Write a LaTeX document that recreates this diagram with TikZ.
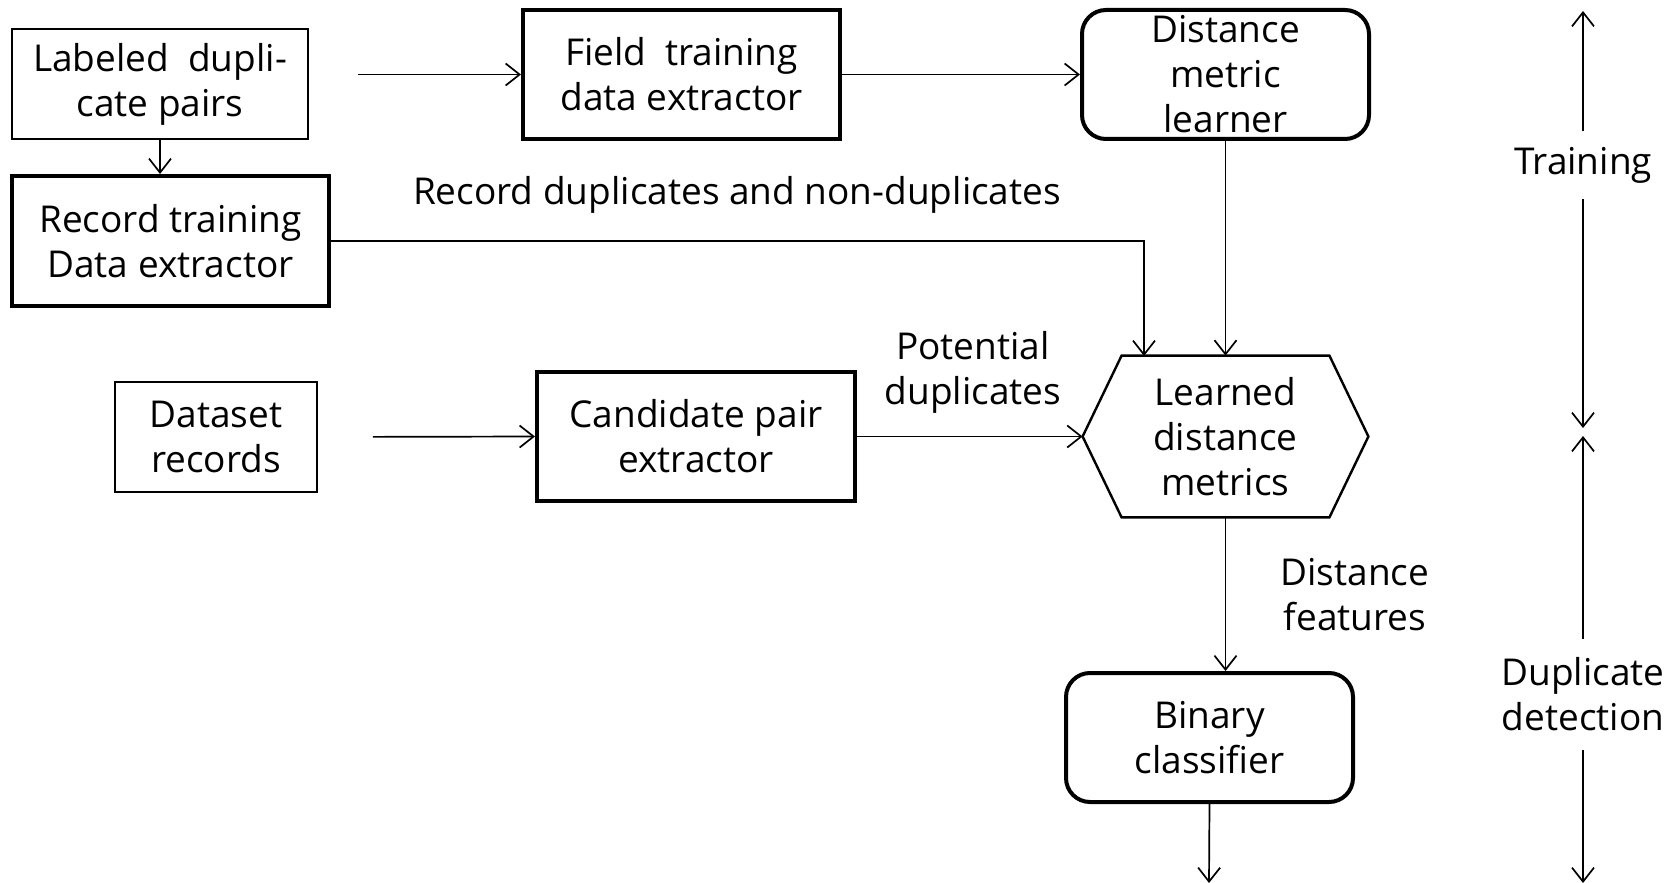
\documentclass[tikz,border=0pt]{standalone}
\usepackage{fontspec}
\setmainfont{Open Sans}
\usetikzlibrary{arrows.meta,calc}
\begin{document}
\begin{tikzpicture}[x=0.5pt,y=-0.5pt,
  every node/.style={font=\fontsize{18.5}{22.5}\selectfont, align=center, inner sep=0pt},
  thinbox/.style={draw, line width=0.9pt},
  thickbox/.style={draw, line width=2pt},
  roundbox/.style={draw, line width=2pt, rounded corners=12pt},
  arr/.style={-{Straight Barb[length=7pt,width=11pt]}, line width=0.85pt},
  ln/.style={line width=0.85pt}]
\useasboundingbox (0,0) rectangle (1676,883);

\node[thinbox, minimum width=148pt, minimum height=55pt] (lab) at (160,84) {Labeled\ \ dupli-\\cate pairs};
\node[thickbox, minimum width=158.5pt, minimum height=64.5pt] (field) at (681.5,74.5) {Field\ \ training\\data extractor};
\node[roundbox, minimum width=143.5pt, minimum height=64.5pt] (dml) at (1225.5,74.5) {Distance\\metric\\learner};
\node[thickbox, minimum width=158.5pt, minimum height=65pt] (rec) at (170.5,241) {Record training\\Data extractor};
\node[minimum width=142.5pt, minimum height=80.5pt] (hex) at (1225.5,436.5) {Learned\\distance\\metrics};
\draw[line width=1.2pt] (hex.west) -- ($(hex.north west)+(39,0)$) -- ($(hex.north east)+(-39,0)$) -- (hex.east) -- ($(hex.south east)+(-39,0)$) -- ($(hex.south west)+(39,0)$) -- cycle;
\node[thickbox, minimum width=159pt, minimum height=64.5pt] (cand) at (696,436.5) {Candidate pair\\extractor};
\node[thinbox, minimum width=101pt, minimum height=55pt] (data) at (216,437) {Dataset\\records};
\node[roundbox, minimum width=143.5pt, minimum height=64.5pt] (bin) at (1209.5,737.5) {Binary\\classifier};

\node (lrec) at (737,195) {Record duplicates and non-duplicates};
\node (lpot) at (973,372) {Potential\\duplicates};
\node (ldist) at (1355,595) {Distance\\features};
\node[minimum height=33.5pt] (train) at (1583,165) {Training};
\node[minimum height=55.5pt] (dupdet) at (1583,694.5) {Duplicate\\detection};

\coordinate (rin) at (1144,356);
\coordinate (bout) at (1209,883);
\coordinate (t1) at (1583,11);
\coordinate (t2) at (1583,428);
\coordinate (d1) at (1583,436);
\coordinate (d2) at (1583,883);

\draw[arr, shorten <=24.5pt] (lab.east |- field.west) -- (field.west);
\draw[arr] (field.east) -- (dml.west);
\draw[arr] (lab.south) -- (lab.south |- rec.north);
\draw[arr] (rec.east) -| (rin);
\draw[arr] (dml.south) -- (hex.north);
\draw[arr, shorten <=27.5pt] (data.east) -- (cand.west);
\draw[arr] (cand.east) -- (hex.west);
\draw[arr] (hex.south) -- (hex.south |- bin.north);
\draw[arr] (bin.south) -- (bout);
\draw[arr] (train.north) -- (t1);
\draw[arr] (train.south) -- (t2);
\draw[arr] (dupdet.north) -- (d1);
\draw[arr] (dupdet.south) -- (d2);
\end{tikzpicture}
\end{document}
